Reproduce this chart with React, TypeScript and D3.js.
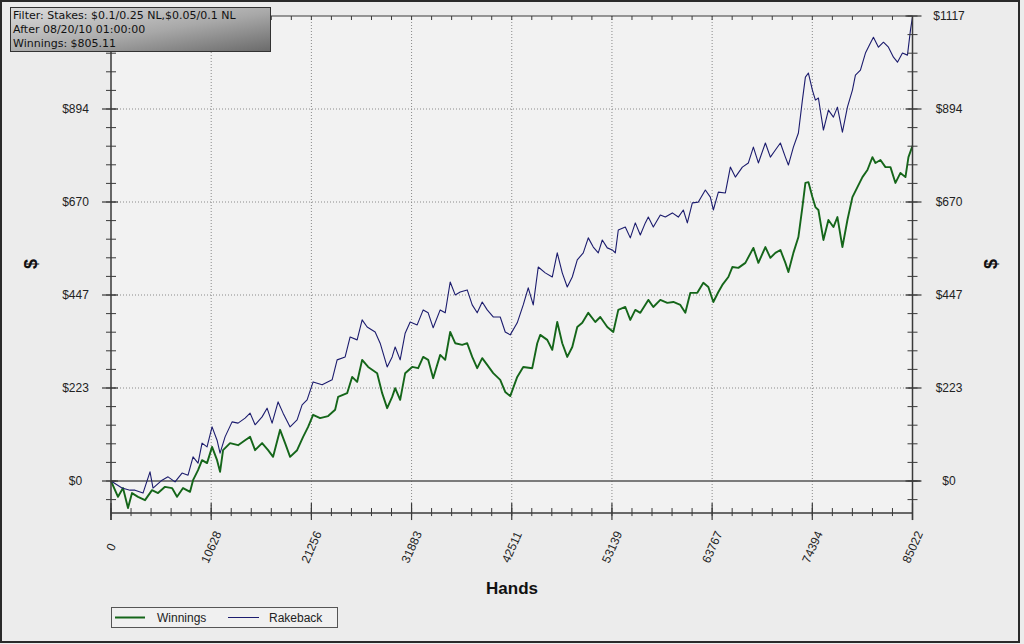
import React from "react";
import * as d3 from "d3";

const W = 1024;
const H = 644;

const filterLines = [
  "Filter: Stakes: $0.1/0.25 NL,$0.05/0.1 NL",
  "After 08/20/10 01:00:00",
  "Winnings: $805.11",
];

const xTickLabels = ["0", "10628", "21256", "31883", "42511", "53139", "63767", "74394", "85022"];
const yTickLabels = ["$0", "$223", "$447", "$670", "$894", "$1117"];
const xMax = 85022;
const yMax = 1117;
const yMin = -77;

const seriesNames = ["Winnings", "Rakeback"];
const seriesColors = ["#15661a", "#1c1c6e"];

// [hands, dollars]
const winnings: [number, number][] = [
  [0, 0], [743, -38], [1274, -17], [1804, -65], [2229, -29], [2866, -38], [3609, -46], [4352, -22],
  [4989, -29], [5732, -14], [6475, -17], [7005, -38], [7642, -17], [8385, -26], [8703, 2], [9234, 26],
  [9658, 50], [10189, 43], [10720, 82], [11251, 50], [11569, 22], [11888, 74], [12631, 91], [13480, 86],
  [14223, 98], [14754, 106], [15284, 74], [16027, 91], [16664, 74], [17195, 58], [17938, 123], [18468, 91],
  [18999, 58], [19742, 74], [20379, 106], [20910, 130], [21440, 159], [22183, 151], [23032, 156], [23775, 171],
  [24094, 202], [25049, 211], [25580, 250], [26110, 238], [26641, 291], [27278, 274], [28233, 259], [28764, 211],
  [29295, 175], [29825, 202], [30144, 223], [30674, 195], [31205, 259], [31948, 274], [32585, 271], [33116, 298],
  [33646, 291], [34177, 247], [34920, 303], [35451, 291], [35981, 358], [36512, 331], [37255, 327], [37786, 331],
  [38317, 298], [38847, 271], [39378, 295], [39909, 279], [40545, 259], [41288, 243], [41819, 214], [42350, 204],
  [43093, 250], [43730, 274], [44685, 271], [45216, 331], [45534, 351], [46277, 339], [46808, 315], [47338, 382],
  [47869, 331], [48400, 298], [48931, 322], [49461, 370], [49992, 380], [50629, 404], [51372, 382], [51902, 394],
  [52645, 370], [53282, 358], [53813, 411], [54556, 418], [55087, 387], [55617, 411], [56148, 404], [56997, 435],
  [57528, 418], [58271, 435], [59014, 428], [59651, 430], [60394, 423], [60924, 404], [61455, 452], [62198, 452],
  [62835, 476], [63366, 466], [63896, 430], [64427, 454], [64851, 471], [65488, 490], [65912, 514], [66549, 512],
  [67293, 524], [68142, 560], [68673, 524], [69416, 562], [69946, 536], [70477, 548], [71008, 555], [71538, 524],
  [71857, 502], [72387, 548], [72918, 586], [73343, 658], [73661, 716], [73980, 718], [74404, 682], [74723, 658],
  [75041, 651], [75572, 579], [76102, 627], [76633, 610], [77058, 634], [77588, 562], [78119, 627], [78650, 682],
  [79180, 706], [79711, 730], [80242, 747], [80773, 778], [81091, 764], [81622, 771], [82152, 754], [82683, 754],
  [83214, 716], [83744, 740], [84275, 730], [84593, 778], [85022, 805],
];

const rakeback: [number, number][] = [
  [0, 0], [1168, -17], [2017, -22], [2547, -22], [3396, -29], [4139, 22], [4458, -17], [5413, 2],
  [6050, 10], [6793, -2], [7536, 19], [8173, 14], [8703, 58], [9234, 43], [9658, 91], [10189, 82],
  [10720, 130], [11251, 98], [11569, 67], [12100, 106], [12843, 142], [13480, 139], [14223, 151], [14754, 163],
  [15284, 135], [16027, 154], [16558, 175], [17089, 139], [17725, 190], [18256, 163], [18999, 130], [19742, 147],
  [20273, 183], [20803, 195], [21440, 238], [22396, 231], [23457, 243], [23988, 291], [24837, 298], [25367, 346],
  [26110, 339], [26641, 387], [27172, 370], [28021, 358], [28552, 331], [29295, 274], [29825, 298], [30144, 322],
  [30674, 291], [31205, 355], [31736, 382], [32479, 375], [33116, 411], [33646, 404], [34177, 368], [34920, 411],
  [35451, 404], [35981, 478], [36512, 447], [37043, 454], [37786, 459], [38317, 423], [38847, 404], [39378, 430],
  [39909, 411], [40545, 394], [41288, 394], [41819, 358], [42350, 351], [43093, 380], [43730, 423], [44260, 464],
  [44791, 423], [45322, 514], [46065, 500], [46808, 490], [47338, 548], [47869, 500], [48400, 466], [48931, 490],
  [49461, 531], [50098, 548], [50629, 584], [51160, 562], [51690, 548], [52115, 579], [52645, 560], [53176, 555],
  [53495, 548], [53813, 603], [54556, 610], [55087, 584], [55617, 620], [56148, 591], [56679, 620], [56997, 634],
  [57528, 610], [58271, 639], [58802, 634], [59545, 644], [60181, 634], [60712, 651], [61137, 620], [61667, 668],
  [62304, 670], [63047, 699], [63578, 682], [63896, 651], [64427, 694], [65170, 692], [65700, 754], [66231, 730],
  [66974, 754], [67611, 764], [68142, 802], [68673, 764], [69416, 812], [69946, 778], [70477, 795], [71008, 812],
  [71538, 778], [71857, 759], [72387, 802], [72918, 836], [73343, 915], [73661, 970], [73980, 980], [74404, 939],
  [74723, 915], [75041, 920], [75572, 843], [76102, 891], [76633, 874], [77058, 898], [77588, 838], [78119, 898],
  [78650, 939], [78968, 975], [79499, 987], [80030, 1028], [80561, 1052], [80879, 1066], [81410, 1042], [81940, 1054],
  [82471, 1042], [83002, 1018], [83427, 1006], [83957, 1028], [84488, 1023], [84806, 1083], [85022, 1115],
];

export default function App() {
  const L = 111, R = 912.5;
  const x = d3.scaleLinear().domain([0, xMax]).range([L, R]);
  const y = d3.scaleLinear().domain([0, yMax]).range([481, 16]);
  const bottom = y(yMin);
  const top = y(yMax);

  const xStep = xMax / 8;
  const yStep = yMax / 5;
  const xMajor = d3.range(0, 9).map((i) => i * xStep);
  const xMinor = d3.range(0, 41).map((i) => (i * xStep) / 5);
  const yMajor = d3.range(0, 6).map((i) => i * yStep);
  const yMinor = d3.range(-1, 26).map((i) => (i * yStep) / 5).filter((v) => y(v) <= bottom + 0.5);

  const line = d3
    .line<[number, number]>()
    .x((d) => x(d[0]))
    .y((d) => y(d[1]))
    .curve(d3.curveLinear);

  const axisColor = "#3a3a3a";
  const font = "'Liberation Sans', Arial, sans-serif";

  return (
    <svg
      width={W}
      height={H}
      style={{ position: "absolute", left: 0, top: 0, display: "block" }}
      xmlns="http://www.w3.org/2000/svg"
    >
      <defs>
        <linearGradient id="fbox" x1="0" y1="0" x2="1" y2="1">
          <stop offset="0%" stopColor="#dedede" />
          <stop offset="55%" stopColor="#a8a8a8" />
          <stop offset="100%" stopColor="#6a6a6a" />
        </linearGradient>
      </defs>
      <rect x={0} y={0} width={W} height={H} fill="#ececec" />
      <rect x={L} y={top} width={R - L} height={bottom - top} fill="#f2f2f2" />

      {/* grid */}
      {xMajor.slice(1, -1).map((v, i) => (
        <line key={"gx" + i} x1={x(v)} x2={x(v)} y1={top} y2={bottom} stroke="#8a8a8a" strokeWidth={1} strokeDasharray="1,2" />
      ))}
      {yMajor.slice(1, -1).map((v, i) => (
        <line key={"gy" + i} x1={L} x2={R} y1={y(v)} y2={y(v)} stroke="#8a8a8a" strokeWidth={1} strokeDasharray="1,2" />
      ))}
      <line x1={L} x2={R + 8} y1={y(0)} y2={y(0)} stroke="#555" strokeWidth={1.3} />

      {/* series */}
      <path d={line(winnings) || ""} fill="none" stroke={seriesColors[0]} strokeWidth={1.9} strokeLinejoin="round" />
      <path d={line(rakeback) || ""} fill="none" stroke={seriesColors[1]} strokeWidth={1.1} strokeLinejoin="round" />

      {/* axes lines */}
      <line x1={L} x2={L} y1={top} y2={bottom + 7} stroke={axisColor} strokeWidth={1.5} />
      <line x1={R} x2={R} y1={top} y2={bottom + 7} stroke={axisColor} strokeWidth={1.5} />
      <line x1={L} x2={R} y1={bottom} y2={bottom} stroke={axisColor} strokeWidth={1.5} />
      <line x1={L} x2={R} y1={top} y2={top} stroke={axisColor} strokeWidth={1.2} />

      {/* y ticks */}
      {yMinor.map((v, i) => (
        <g key={"ym" + i}>
          <line x1={L - 5} x2={L + 5} y1={y(v)} y2={y(v)} stroke={axisColor} strokeWidth={1} />
          <line x1={R - 5} x2={R + 5} y1={y(v)} y2={y(v)} stroke={axisColor} strokeWidth={1} />
        </g>
      ))}
      {yMajor.map((v, i) => (
        <g key={"yM" + i}>
          <line x1={L - 9} x2={L + 7} y1={y(v)} y2={y(v)} stroke={axisColor} strokeWidth={1.2} />
          <line x1={R - 7} x2={R + 9} y1={y(v)} y2={y(v)} stroke={axisColor} strokeWidth={1.2} />
          {i < yMajor.length - 1 && (
            <text x={75.5} y={y(v)} dy="0.35em" textAnchor="middle" fontFamily={font} fontSize={12} fill="#222">
              {yTickLabels[i]}
            </text>
          )}
          <text x={949} y={y(v)} dy="0.35em" textAnchor="middle" fontFamily={font} fontSize={12} fill="#222">
            {yTickLabels[i]}
          </text>
        </g>
      ))}

      {/* x ticks */}
      {xMinor.map((v, i) => (
        <g key={"xm" + i}>
          <line x1={x(v)} x2={x(v)} y1={bottom - 5} y2={bottom + 3} stroke={axisColor} strokeWidth={1} />
          <line x1={x(v)} x2={x(v)} y1={top} y2={top + 4} stroke={axisColor} strokeWidth={1} />
        </g>
      ))}
      {xMajor.map((v, i) => (
        <g key={"xM" + i}>
          <line x1={x(v)} x2={x(v)} y1={bottom - 10} y2={bottom + 7} stroke={axisColor} strokeWidth={1.2} />
          <text
            x={0}
            y={0}
            dy="0.35em"
            textAnchor="middle"
            fontFamily={font}
            fontSize={12}
            fill="#222"
            transform={`translate(${x(v)},547) rotate(-66)`}
          >
            {xTickLabels[i]}
          </text>
        </g>
      ))}

      {/* axis titles */}
      <text x={512} y={594} textAnchor="middle" fontFamily={font} fontSize={17} fontWeight="bold" fill="#111">
        Hands
      </text>
      <text transform="translate(31,264) rotate(-90)" textAnchor="middle" dy="0.35em" fontFamily={font} fontSize={18} fontWeight="bold" fill="#111">
        $
      </text>
      <text transform="translate(991,264) rotate(-90)" textAnchor="middle" dy="0.35em" fontFamily={font} fontSize={18} fontWeight="bold" fill="#111">
        $
      </text>

      {/* filter box */}
      <rect x={10.5} y={7.5} width={260} height={44} fill="url(#fbox)" stroke="#333" strokeWidth={1} />
      {filterLines.map((t, i) => (
        <text key={"f" + i} x={13} y={18.5 + i * 14.2} fontFamily="'DejaVu Sans', Verdana, sans-serif" fontSize={11} fill="#111">
          {t}
        </text>
      ))}

      {/* legend */}
      <rect x={111.5} y={607.5} width={226} height={20} fill="#f0f0f0" stroke="#555" strokeWidth={1} />
      <line x1={115} x2={145} y1={617.5} y2={617.5} stroke={seriesColors[0]} strokeWidth={2} />
      <text x={157} y={617.5} dy="0.35em" fontFamily={font} fontSize={12} fill="#222">
        {seriesNames[0]}
      </text>
      <line x1={228} x2={259} y1={617.5} y2={617.5} stroke={seriesColors[1]} strokeWidth={1} />
      <text x={269} y={617.5} dy="0.35em" fontFamily={font} fontSize={12} fill="#222">
        {seriesNames[1]}
      </text>

      {/* outer frame */}
      <rect x={1} y={1} width={1018} height={641} fill="none" stroke="#2a2a2a" strokeWidth={2} />
    </svg>
  );
}
